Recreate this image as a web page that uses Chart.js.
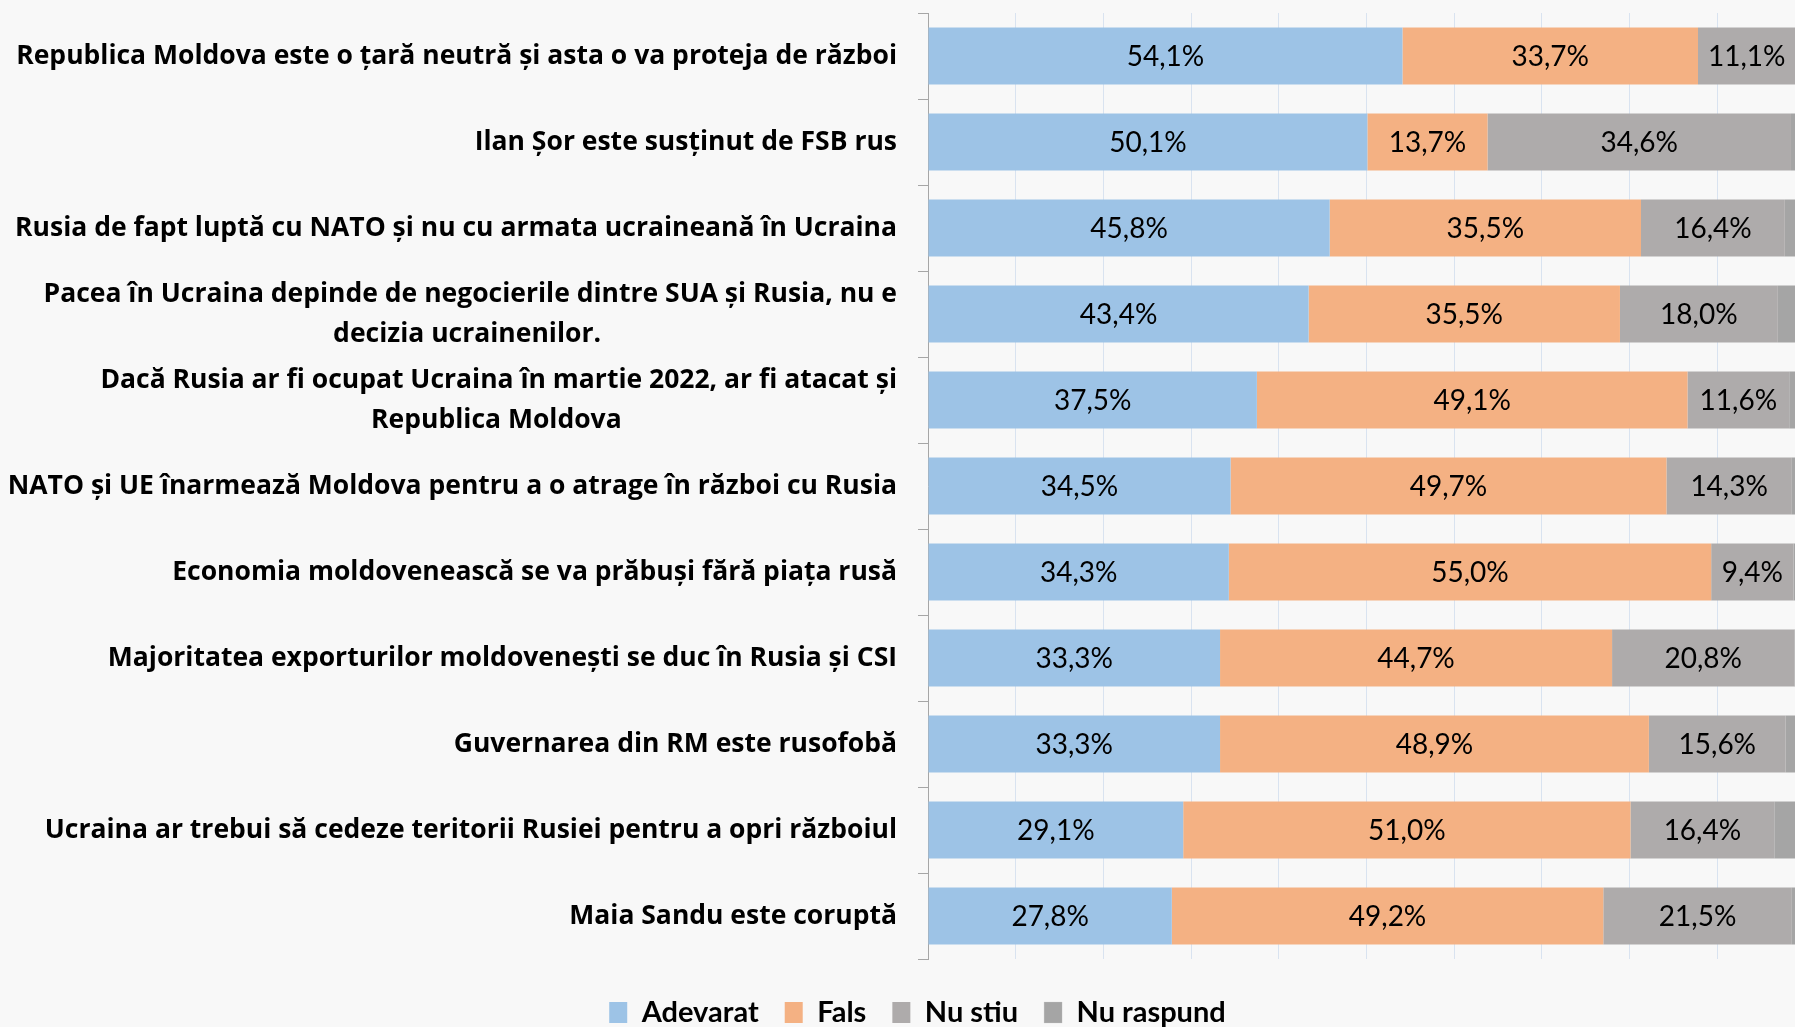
<!DOCTYPE html>
<html>
<head>
<meta charset="utf-8">
<script src="https://cdn.jsdelivr.net/npm/chart.js@4.4.1/dist/chart.umd.min.js"></script>
<style>
  html, body { margin: 0; padding: 0; width: 1795px; height: 1027px; overflow: hidden; background: #f8f8f8; }
  #wrap { position: absolute; left: 0; top: 0; width: 1832px; height: 1037px; }
</style>
</head>
<body>
<div id="wrap"><canvas id="chart"></canvas></div>
<script>
// ---------- data ----------
const categories = [
  "Republica Moldova este o țară neutră și asta o va proteja de război",
  "Ilan Șor este susținut de FSB rus",
  "Rusia de fapt luptă cu NATO și nu cu armata ucraineană în Ucraina",
  "Pacea în Ucraina depinde de negocierile dintre SUA și Rusia, nu e\ndecizia ucrainenilor.",
  "Dacă Rusia ar fi ocupat Ucraina în martie 2022, ar fi atacat și\nRepublica Moldova",
  "NATO și UE înarmează Moldova pentru a o atrage în război cu Rusia",
  "Economia moldovenească se va prăbuși fără piața rusă",
  "Majoritatea exporturilor moldovenești se duc în Rusia și CSI",
  "Guvernarea din RM este rusofobă",
  "Ucraina ar trebui să cedeze teritorii Rusiei pentru a opri războiul",
  "Maia Sandu este coruptă"
];
const adevarat  = [54.1, 50.1, 45.8, 43.4, 37.5, 34.5, 34.3, 33.3, 33.3, 29.1, 27.8];
const fals      = [33.7, 13.7, 35.5, 35.5, 49.1, 49.7, 55.0, 44.7, 48.9, 51.0, 49.2];
const nuStiu    = [11.1, 34.6, 16.4, 18.0, 11.6, 14.3,  9.4, 20.8, 15.6, 16.4, 21.5];
const nuRaspund = [ 1.1,  1.6,  2.3,  3.1,  1.8,  1.5,  1.3,  1.2,  2.2,  3.5,  1.5];
const seriesNames = ["Adevarat", "Fals", "Nu stiu", "Nu raspund"];
const axisMin = 0, axisMax = 100, axisStep = 10;

// ---------- styles ----------
const colors = ["#9dc3e6", "#f4b183", "#aeabab", "#a5a5a5"];
const labelFont = { family: "'Open Sans'", weight: "bold", size: 26.5, lineHeight: 1.51 };
const valueFont = "400 28px Lato";
const legendFont = { family: "Lato", weight: "bold", size: 29 };
const legendOffsetX = 15;

function fmt(v) { return v.toFixed(1).replace(".", ",") + "%"; }

const measureCtx = document.createElement("canvas").getContext("2d");
function centeredLines(text) {
  const lines = text.split("\n");
  if (lines.length === 1) return lines[0];
  measureCtx.font = `${labelFont.weight} ${labelFont.size}px ${labelFont.family}`;
  const widths = lines.map(l => measureCtx.measureText(l).width);
  const maxW = Math.max(...widths);
  const sp = measureCtx.measureText("\u00A0").width;
  return lines.map((l, i) => l + "\u00A0".repeat(Math.round((maxW - widths[i]) / 2 / sp)));
}

const valueLabels = {
  id: "valueLabels",
  afterDatasetsDraw(chart) {
    const { ctx } = chart;
    ctx.save();
    ctx.font = valueFont;
    ctx.fillStyle = "#000";
    ctx.textAlign = "center";
    ctx.textBaseline = "middle";
    chart.data.datasets.forEach((ds, di) => {
      if (!ds.showValues) return;
      chart.getDatasetMeta(di).data.forEach((el, i) => {
        const p = el.getCenterPoint();
        ctx.fillText(fmt(ds.data[i]), p.x, p.y + 1);
      });
    });
    ctx.restore();
  }
};

const legendShift = {
  id: "legendShift",
  afterLayout(chart) {
    if (chart.legend) {
      chart.legend.left += legendOffsetX;
      chart.legend.right += legendOffsetX;
    }
  }
};

function build() {
  Chart.defaults.font.family = "Lato";
  new Chart(document.getElementById("chart"), {
    type: "bar",
    data: {
      labels: categories,
      datasets: [
        { label: seriesNames[0], data: adevarat,  backgroundColor: colors[0], showValues: true },
        { label: seriesNames[1], data: fals,      backgroundColor: colors[1], showValues: true },
        { label: seriesNames[2], data: nuStiu,    backgroundColor: colors[2], showValues: true },
        { label: seriesNames[3], data: nuRaspund, backgroundColor: colors[3], showValues: false,
          borderColor: "#c9c9c9", borderWidth: { left: 1, top: 0, right: 0, bottom: 0 } }
      ]
    },
    options: {
      indexAxis: "y",
      responsive: true,
      maintainAspectRatio: false,
      devicePixelRatio: 1,
      animation: false,
      layout: { padding: { top: 13, right: 27, left: 0, bottom: 0 } },
      datasets: { bar: { barPercentage: 0.663, categoryPercentage: 1.0 } },
      scales: {
        x: {
          type: "linear",
          stacked: true,
          min: axisMin,
          max: axisMax,
          ticks: { display: false, stepSize: axisStep },
          grid: {
            drawTicks: false,
            color: (c) => (c.tick && c.tick.value === axisMin ? "rgba(0,0,0,0)" : "#d9e3f0"),
            lineWidth: 1
          },
          border: { display: false },
          afterFit(s) { s.height = 13; s.paddingLeft = 0; s.paddingRight = 0; }
        },
        y: {
          type: "category",
          stacked: true,
          grid: {
            offset: true,
            drawOnChartArea: false,
            drawTicks: true,
            tickLength: 10,
            tickColor: "#a6a6a6"
          },
          border: { display: true, color: "#a6a6a6", width: 1 },
          ticks: {
            autoSkip: false,
            color: "#000",
            padding: 21,
            font: labelFont,
            callback: (value, index) => centeredLines(categories[index])
          },
          afterFit(s) { s.width = 928; s.paddingTop = 0; s.paddingBottom = 0; }
        }
      },
      plugins: {
        legend: {
          position: "bottom",
          labels: {
            color: "#000",
            font: legendFont,
            boxWidth: 18,
            boxHeight: 21,
            padding: 26
          }
        },
        tooltip: { enabled: false }
      }
    },
    plugins: [valueLabels, legendShift]
  });
}

Promise.all([
  document.fonts.load("700 26px 'Open Sans'"),
  document.fonts.load("400 28px Lato"),
  document.fonts.load("700 29px Lato")
]).then(build, build);
</script>
</body>
</html>
